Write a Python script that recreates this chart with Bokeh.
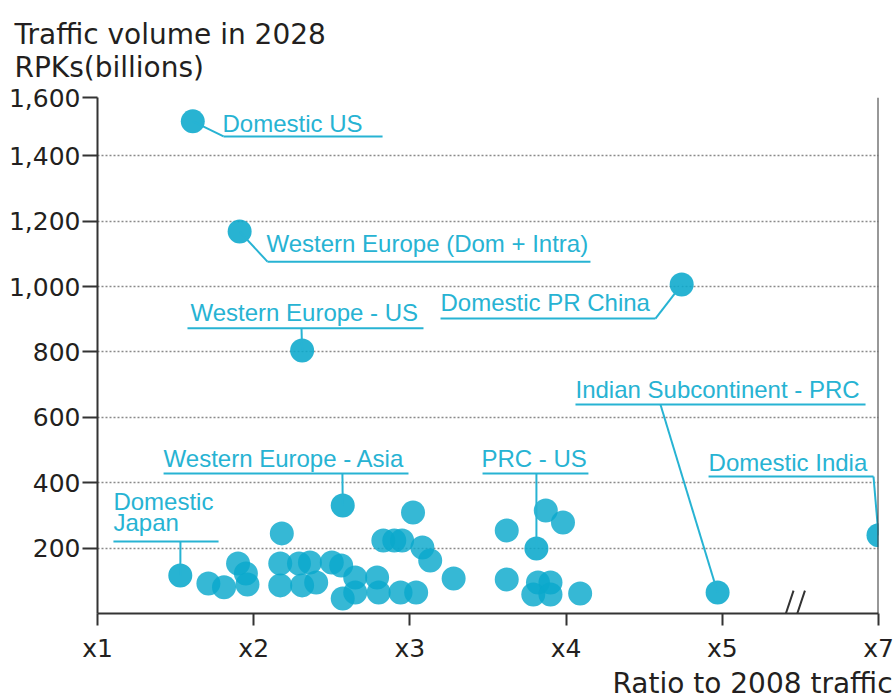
from bokeh.plotting import figure
from bokeh.models import Span, FixedTicker, Range1d, ColumnDataSource, Title
from bokeh.core.properties import value
from bokeh.embed import file_html
from bokeh.resources import INLINE

# ---------------- data ----------------
# Ratio to 2008 traffic (x) and traffic volume in 2028, RPKs billions (y)
labeled_names = ["Domestic US", "Western Europe (Dom + Intra)", "Western Europe - US",
                 "Domestic PR China", "Indian Subcontinent - PRC", "Domestic India",
                 "Western Europe - Asia", "PRC - US", "Domestic Japan"]
labeled_ratio = [1.61, 1.91, 2.31, 4.74, 4.97, 7.0, 2.57, 3.81, 1.53]
labeled_rpk = [1505, 1168, 804, 1006, 64, 239, 330, 199, 116]

other_ratio = [1.71, 1.81, 1.90, 1.95, 1.96, 2.18, 2.17, 2.29, 2.36, 2.50, 2.56,
               2.17, 2.31, 2.40, 2.65, 2.79, 2.57, 2.65, 2.80, 2.94, 3.04, 2.83,
               2.90, 2.95, 3.08, 3.13, 3.02, 3.28, 3.87, 3.98, 3.62, 3.62, 3.82,
               3.90, 3.79, 3.90, 4.09]
other_rpk = [92, 80, 153, 122, 89, 245, 153, 153, 156, 156, 147,
             86, 86, 95, 110, 110, 46, 64, 64, 64, 64, 223,
             223, 223, 202, 162, 309, 107, 315, 278, 254, 104, 95,
             95, 58, 58, 61]

x_tick_values = [1, 2, 3, 4, 5, 7]
x_tick_labels = ["x1", "x2", "x3", "x4", "x5", "x7"]
y_tick_values = [200, 400, 600, 800, 1000, 1200, 1400]
y_tick_labels = ["200", "400", "600", "800", "1,000", "1,200", "1,400"]
y_top_label = "1,600"

title_lines = ["Traffic volume in 2028", "RPKs(billions)"]
x_title = "Ratio to 2008 traffic"


def pos(r):
    # broken axis: x5 .. x7 compressed into one interval
    return r if r <= 5 else 5 + (r - 5) / 2.0


Y_TOP = 1578  # top gridline of the original chart (labelled 1,600)

POINT = "#0aa8cc"
LABEL = "#27b3d3"
DARK = "#231f20"

p = figure(width=895, height=699, output_backend="svg", toolbar_location=None,
           x_range=Range1d(1, 6), y_range=Range1d(0, Y_TOP),
           min_border_left=97, min_border_right=17, min_border_top=97,
           min_border_bottom=86)
p.outline_line_color = None
p.background_fill_color = "white"
p.border_fill_color = "white"

# two-line title
p.title.text = "\n".join(title_lines)
p.title.align = "left"
p.title.offset = -83
p.title.text_font = "DejaVu Sans"
p.title.text_font_size = "28px"
p.title.text_font_style = "normal"
p.title.text_color = DARK
p.title.text_line_height = 1.0
p.title.standoff = 28
p.add_layout(Title(text=x_title, align="left", offset=515, text_font="DejaVu Sans",
                   text_font_size="28px", text_font_style="normal", text_color=DARK,
                   standoff=-2), "below")

# axes
xt = [pos(v) for v in x_tick_values]
p.xaxis.ticker = FixedTicker(ticks=xt)
p.xaxis.major_label_overrides = {t: l for t, l in zip(xt, x_tick_labels)}
yt = y_tick_values + [Y_TOP]
p.yaxis.ticker = FixedTicker(ticks=yt)
ov = {t: l for t, l in zip(y_tick_values, y_tick_labels)}
ov[Y_TOP] = y_top_label
p.yaxis.major_label_overrides = ov

for ax in (p.xaxis, p.yaxis):
    ax.axis_line_color = "#333333"
    ax.axis_line_width = 2
    ax.major_tick_line_color = "#333333"
    ax.major_tick_line_width = 2
    ax.minor_tick_line_color = None
    ax.major_tick_in = 0
    ax.major_label_text_font = "DejaVu Sans"
    ax.major_label_text_font_size = "25px"
    ax.major_label_text_color = DARK
p.yaxis.major_tick_out = 15
p.yaxis.major_label_standoff = 2
p.xaxis.major_tick_out = 12
p.xaxis.major_label_standoff = 8

p.xgrid.visible = False
p.ygrid.grid_line_color = "#8a8a8a"
p.ygrid.grid_line_dash = "2 2"
p.ygrid.grid_line_width = 1.5

p.add_layout(Span(location=pos(7), dimension="height", line_color="#333333", line_width=2))

# axis break mark (two short slashes sitting on the x axis)
p.segment(x0=[5.405, 5.478], y0=[-3, -3], x1=[5.456, 5.529], y1=[70, 70],
          line_color="#333333", line_width=2)

# points
src_o = ColumnDataSource(dict(x=[pos(r) for r in other_ratio], y=other_rpk))
src_l = ColumnDataSource(dict(x=[pos(r) for r in labeled_ratio], y=labeled_rpk))
p.scatter("x", "y", source=src_o, marker="circle", size=24, fill_color=POINT,
          fill_alpha=0.82, line_color=None)
p.scatter("x", "y", source=src_l, marker="circle", size=24, fill_color=POINT,
          fill_alpha=0.88, line_color=None)

# annotation layout (data units): text lines, text anchor, underline, leader end
ann = [
    (["Domestic US"], 1.800, [1471], (1.807, 2.825, 1459), (1.807, 1459)),
    (["Western Europe (Dom + Intra)"], 2.082, [1104], (2.088, 4.156, 1076), (2.088, 1076)),
    (["Western Europe - US"], 1.595, [893], (1.576, 3.087, 872), (2.306, 872)),
    (["Domestic PR China"], 3.196, [923], (3.196, 4.572, 902), (4.572, 902)),
    (["Indian Subcontinent - PRC"], 4.060, [657], (4.060, 5.917, 639), (4.604, 639)),
    (["Domestic India"], 4.912, [434], (4.912, 5.968, 419), (5.968, 419)),
    (["Western Europe - Asia"], 1.423, [446], (1.423, 2.991, 428), (2.568, 428)),
    (["PRC - US"], 3.458, [446], (3.465, 4.143, 428), (3.810, 428)),
    (["Domestic", "Japan"], 1.102, [315, 251], (1.102, 1.775, 220), (1.531, 220)),
]

tx, ty, tt = [], [], []
ux0, ux1, uy = [], [], []
lxs, lys = [], []
for (lines, x0, ys, ul, le), r, v in zip(ann, labeled_ratio, labeled_rpk):
    for line, yy in zip(lines, ys):
        tx.append(x0)
        ty.append(yy)
        tt.append(line)
    ux0.append(ul[0])
    ux1.append(ul[1])
    uy.append(ul[2])
    lxs.append([pos(r), le[0]])
    lys.append([v, le[1]])

p.segment(x0=ux0, y0=uy, x1=ux1, y1=uy, line_color=LABEL, line_width=2)
p.multi_line(xs=lxs, ys=lys, line_color=LABEL, line_width=2)
p.text(x=tx, y=ty, text=tt, text_font=value("Liberation Sans"), text_font_size="24px",
       text_color=LABEL, text_baseline="alphabetic", text_align="left", y_offset=-9)

open("out.html", "w").write(file_html(p, INLINE))
